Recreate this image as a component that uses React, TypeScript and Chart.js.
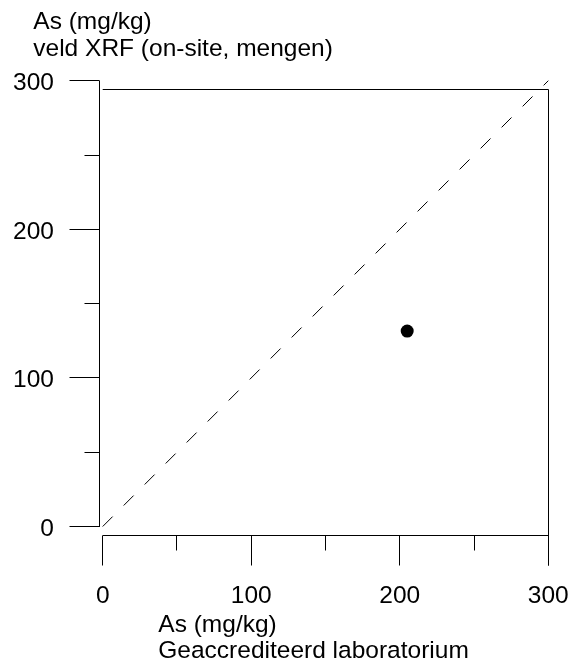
import React, { useEffect, useRef } from "react";
import { Chart, registerables } from "chart.js";

Chart.register(...registerables);

// ---- data ----
const pointX: number[] = [205];
const pointY: number[] = [131.5];
const refLineX: number[] = [0, 300];
const refLineY: number[] = [0, 300];
const majorTicks: number[] = [0, 100, 200, 300];
const minorTicks: number[] = [50, 150, 250];
const majorTickLabels: string[] = ["0", "100", "200", "300"];
const yTitleLines: string[] = ["As (mg/kg)", "veld XRF (on-site, mengen)"];
const xTitleLines: string[] = ["As (mg/kg)", "Geaccrediteerd laboratorium"];

const FONT = '24.5px "Liberation Sans", Arial, Helvetica, sans-serif';

const axesPlugin = {
  id: "customAxes",
  afterDraw(chart: any) {
    const ctx = chart.ctx as CanvasRenderingContext2D;
    const xs = chart.scales.x;
    const ys = chart.scales.y;
    const snap = (v: number) => Math.floor(v) + 0.5;
    ctx.save();
    ctx.strokeStyle = "#000";
    ctx.lineWidth = 1;
    ctx.setLineDash([]);

    const yAxisX = snap(xs.left - 3);
    const xAxisY = snap(ys.bottom + 9);
    const frameTop = snap(ys.top + 9);
    const x0 = xs.getPixelForValue(0);
    const x300 = snap(xs.getPixelForValue(300));

    ctx.beginPath();
    // y axis line
    ctx.moveTo(yAxisX, ys.getPixelForValue(300));
    ctx.lineTo(yAxisX, ys.getPixelForValue(0) + 0.5);
    // x axis line
    ctx.moveTo(x0, xAxisY);
    ctx.lineTo(x300, xAxisY);
    // top frame
    ctx.moveTo(x0, frameTop);
    ctx.lineTo(x300, frameTop);
    // right frame
    ctx.moveTo(x300, frameTop);
    ctx.lineTo(x300, xAxisY + 30);
    // y ticks
    majorTicks.forEach((v) => {
      const py = snap(ys.getPixelForValue(v));
      ctx.moveTo(yAxisX - 30, py);
      ctx.lineTo(yAxisX, py);
    });
    minorTicks.forEach((v) => {
      const py = snap(ys.getPixelForValue(v));
      ctx.moveTo(yAxisX - 15, py);
      ctx.lineTo(yAxisX, py);
    });
    // x ticks
    majorTicks.forEach((v) => {
      const px = snap(xs.getPixelForValue(v));
      ctx.moveTo(px, xAxisY);
      ctx.lineTo(px, xAxisY + 30);
    });
    minorTicks.forEach((v) => {
      const px = snap(xs.getPixelForValue(v));
      ctx.moveTo(px, xAxisY);
      ctx.lineTo(px, xAxisY + 15);
    });
    ctx.stroke();

    // labels
    ctx.fillStyle = "#000";
    ctx.font = FONT;
    ctx.textBaseline = "alphabetic";
    ctx.textAlign = "right";
    majorTicks.forEach((v, i) => {
      const py = ys.getPixelForValue(v);
      ctx.fillText(majorTickLabels[i], yAxisX - 45.5, py + 9.5);
    });
    ctx.textAlign = "center";
    majorTicks.forEach((v, i) => {
      const px = xs.getPixelForValue(v);
      ctx.fillText(majorTickLabels[i], px, xAxisY + 67);
    });

    // titles
    ctx.textAlign = "left";
    yTitleLines.forEach((t, i) => {
      ctx.fillText(t, 33.3, 29.3 + i * 26.7);
    });
    xTitleLines.forEach((t, i) => {
      ctx.fillText(t, 158.3, 631.7 + i * 26.5);
    });
    ctx.restore();
  },
};

export default function App() {
  const canvasRef = useRef<HTMLCanvasElement | null>(null);

  useEffect(() => {
    if (!canvasRef.current) return;
    const chart = new Chart(canvasRef.current, {
      type: "scatter",
      data: {
        datasets: [
          {
            type: "line",
            label: "1:1",
            data: refLineX.map((x, i) => ({ x, y: refLineY[i] })),
            borderColor: "#000",
            borderWidth: 1,
            borderDash: [14, 15.7],
            pointRadius: 0,
            fill: false,
            clip: false,
          } as any,
          {
            type: "scatter",
            label: "As",
            data: pointX.map((x, i) => ({ x, y: pointY[i] })),
            backgroundColor: "#000",
            borderColor: "#000",
            pointRadius: 6.5,
            borderWidth: 0,
            clip: false,
          } as any,
        ],
      },
      options: {
        animation: false,
        responsive: false,
        devicePixelRatio: 1,
        layout: {
          padding: { left: 102.7, right: 29.7, top: 80.7, bottom: 137.5 },
        },
        scales: {
          x: { type: "linear", display: false, min: 0, max: 300 },
          y: { type: "linear", display: false, min: 0, max: 300 },
        },
        plugins: {
          legend: { display: false },
          tooltip: { enabled: false },
        },
      },
      plugins: [axesPlugin],
    });
    return () => chart.destroy();
  }, []);

  return (
    <div style={{ position: "absolute", left: 0, top: 0, width: 578, height: 664, background: "#fff" }}>
      <canvas ref={canvasRef} width={578} height={664} />
    </div>
  );
}
